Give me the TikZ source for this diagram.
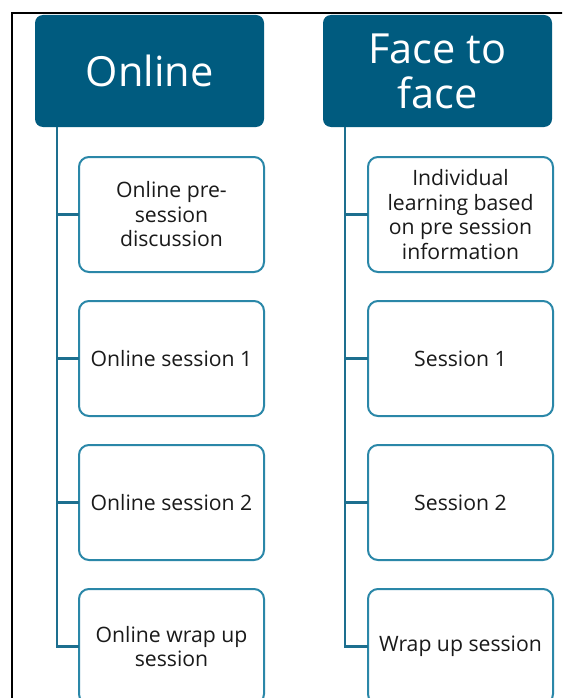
\documentclass[tikz,border=0pt]{standalone}
\usepackage{fontspec}
\setmainfont{Open Sans}
\usepackage{tikz}
\usetikzlibrary{positioning}
\definecolor{headTeal}{HTML}{005B7F}
\definecolor{boxTeal}{HTML}{2A87A8}
\definecolor{lineTeal}{HTML}{1D6F8F}
\definecolor{itemText}{HTML}{1A1A1A}
\tikzset{
  header/.style={fill=headTeal, text=white, rounded corners=8pt, minimum width=229pt, minimum height=112pt, align=center, inner sep=0pt, outer sep=0pt, font=\fontsize{41.5}{45}\selectfont},
  item/.style={draw=boxTeal, line width=2pt, fill=white, text=itemText, rounded corners=10pt, minimum width=185pt, minimum height=115pt, align=center, inner sep=0pt, outer sep=0pt, font=\fontsize{21.2}{24.5}\selectfont},
  branch/.style={draw=lineTeal, line width=2.2pt}
}

\begin{document}
\begin{tikzpicture}[x=1pt, y=-1pt, node distance=29pt]
  \useasboundingbox (0,0) rectangle (562,698);
  \clip (0,0) rectangle (562,698);
  \fill[white] (0,0) rectangle (562,698);
  \draw[line width=2.2pt] (12,720) -- (12,13) -- (580,13);
  % column headers
  \node[header, anchor=north west] (online) at (35,15) {Online};
  \node[header, anchor=north west] (f2f) at (323,15) {Face to\\face};
  % online column
  \node[item, anchor=north west] (on1) at (79,157) {Online pre-\\session\\discussion};
  \node[item, below=of on1] (on2) {Online session 1};
  \node[item, below=of on2] (on3) {Online session 2};
  \node[item, below=of on3] (on4) {Online wrap up\\session};
  % face to face column
  \node[item, anchor=north west] (ff1) at (368,157) {Individual\\learning based\\on pre session\\information};
  \node[item, below=of ff1] (ff2) {Session 1};
  \node[item, below=of ff2] (ff3) {Session 2};
  \node[item, below=of ff3] (ff4) {Wrap up session};
  \foreach \n in {1,...,4} {
    \draw[branch] ([xshift=22pt]online.south west) |- (on\n.west);
    \draw[branch] ([xshift=22pt]f2f.south west) |- (ff\n.west);
  }
\end{tikzpicture}
\end{document}
